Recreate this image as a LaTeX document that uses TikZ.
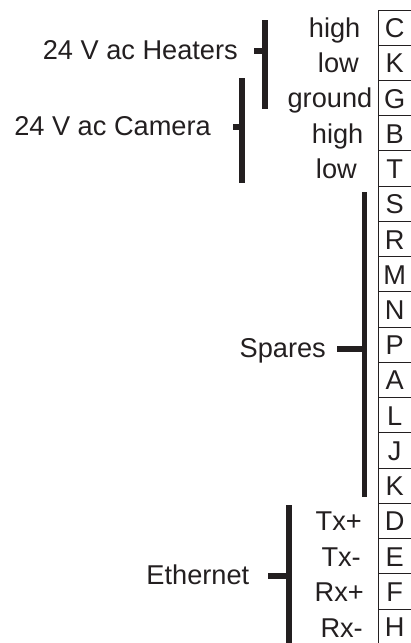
\documentclass[tikz,border=0pt]{standalone}
\usepackage{fontspec}
\setmainfont{Liberation Sans}
\definecolor{ink}{HTML}{231F20}
\begin{document}
\begin{tikzpicture}[x=1pt,y=-1pt,
  font=\fontsize{27.2}{30}\selectfont,
  lbl/.style={anchor=base east, inner sep=0pt, text=ink},
  pinbox/.style={anchor=north west, inner sep=0pt, text=ink,
    minimum width=33pt, minimum height=35.24pt, text height=19.5pt, text depth=0pt},
  bar/.style={draw=ink, line width=5.5pt},
  rule/.style={draw=ink, line width=1pt}]
\useasboundingbox (0,0) rectangle (411,643);

% pin column
\foreach \L [count=\i from 0] in {C,K,G,B,T,S,R,M,N,P,A,L,J,K,D,E,F,H} {
  \node[pinbox] (b\i) at (378,{10+35.24*\i}) {\L};
  \draw[rule] (b\i.north west) -- (b\i.north east);
}
\coordinate (colend) at (378,643);
\draw[rule] (b0.north west) -- (colend);

% signal labels
\node[lbl] (s0) at (360.5,37.4) {high};
\node[lbl] (s1) at (359,72.6) {low};
\node[lbl] (s2) at (372.5,107.9) {ground};
\node[lbl] (s3) at (363.5,143.2) {high};
\node[lbl] (s4) at (357,178.4) {low};
\node[lbl] (s14) at (362,530.8) {Tx+};
\node[lbl] (s15) at (361,566) {Tx-};
\node[lbl] (s16) at (364,601.4) {Rx+};
\node[lbl] (s17) at (363,637.4) {Rx-};

% group labels
\node[lbl] (heat) at (238,59.5) {24 V ac Heaters};
\node[lbl] (cam) at (211,135.2) {24 V ac Camera};
\node[lbl] (spare) at (326,357.9) {Spares};
\node[lbl] (eth) at (249.5,584.2) {Ethernet};

% brackets
\coordinate (hT) at (265,20);  \coordinate (hB) at (265,109);
\coordinate (hM) at (265,51);  \coordinate (hK) at (254,51);
\coordinate (cT) at (242,78);  \coordinate (cB) at (242,183);
\coordinate (cM) at (242,127); \coordinate (cK) at (233,127);
\coordinate (pT) at (364.5,192); \coordinate (pB) at (364.5,497);
\coordinate (pM) at (364.5,349); \coordinate (pK) at (337,349);
\coordinate (eT) at (289,505); \coordinate (eB) at (289,643);
\coordinate (eM) at (289,576); \coordinate (eK) at (268,576);

\draw[bar] (hT) -- (hB);  \draw[bar] (hK) -- (hM);
\draw[bar] (cT) -- (cB);  \draw[bar] (cK) -- (cM);
\draw[bar] (pT) -- (pB);  \draw[bar] (pK) -- (pM);
\draw[bar] (eT) -- (eB);  \draw[bar] (eK) -- (eM);
\end{tikzpicture}
\end{document}
